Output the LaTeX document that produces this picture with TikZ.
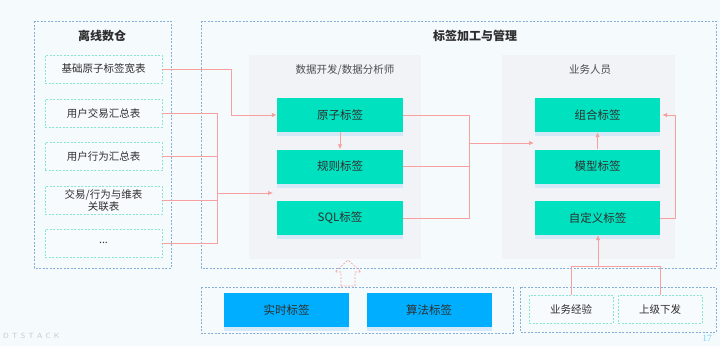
\documentclass[tikz,border=0pt]{standalone}
\usepackage{fontspec}
\setmainfont{Liberation Serif}
\newfontfamily\cjk{Noto Sans CJK SC}
\usetikzlibrary{arrows.meta,shadows,calc}
\definecolor{bgc}{HTML}{F5FAFD}
\definecolor{dashblue}{HTML}{86AED8}
\definecolor{dashteal}{HTML}{86E8D4}
\definecolor{panelg}{HTML}{F2F3F7}
\definecolor{tgreen}{HTML}{00E1BF}
\definecolor{tblue}{HTML}{00AEFF}
\definecolor{lred}{HTML}{F7A0A0}
\definecolor{txt}{HTML}{2E2E2E}
\definecolor{shad}{HTML}{CDE7F8}
\tikzset{
  outerbox/.style={draw=dashblue, line width=0.7pt, dash pattern=on 2pt off 1.5pt},
  srcbox/.style={draw=dashteal, line width=0.7pt, dash pattern=on 2pt off 1.5pt, fill=white, fill opacity=0.3, text opacity=1, minimum width=117pt, minimum height=28pt, inner sep=0pt, font=\cjk\fontsize{10.5}{12}\selectfont, text=txt, align=center},
  panel/.style={fill=panelg, draw=none},
  gbox/.style={fill=tgreen, draw=none, minimum width=126pt, minimum height=34pt, inner sep=0pt, font=\cjk\fontsize{11.5}{13}\selectfont, text=txt, drop shadow={shadow xshift=0pt, shadow yshift=-4pt, fill=shad, opacity=0.8}},
  bbox/.style={fill=tblue, draw=none, minimum width=125pt, minimum height=34pt, inner sep=0pt, font=\cjk\fontsize{11.5}{13}\selectfont, text=txt, drop shadow={shadow xshift=0pt, shadow yshift=-4pt, fill=shad, opacity=0.8}},
  ttl/.style={font=\cjk\bfseries\fontsize{12}{14}\selectfont, text=txt},
  plab/.style={font=\cjk\fontsize{10.5}{12}\selectfont, text=txt!85},
  conn/.style={draw=lred, line width=0.8pt},
  arr/.style={conn, -{Latex[length=5pt,width=4.5pt]}},
}
\begin{document}
\begin{tikzpicture}[x=1pt,y=-1pt]
\useasboundingbox (0,0) rectangle (720,346);
\fill[bgc] (0,0) rectangle (720,346);

% outer boxes
\draw[outerbox] (34,21) rectangle (171,268);
\draw[outerbox] (201,21) rectangle (716,268);
\draw[outerbox] (201,287) rectangle (513,333);
\draw[outerbox] (520,287) rectangle (716,332);

\node[ttl] (t1) at (102,36) {离线数仓};
\node[ttl] (t2) at (475,36) {标签加工与管理};

% panels
\fill[panel] (249,55) rectangle (421,259);
\fill[panel] (502,55) rectangle (675,259);
\node[plab] (p1) at (345,70) {数据开发/数据分析师};
\node[plab] (p2) at (590,70) {业务人员};

% source boxes
\node[srcbox] (b1) at (103.5,69) {基础原子标签宽表};
\node[srcbox] (b2) at (103.5,113) {用户交易汇总表};
\node[srcbox] (b3) at (103.5,156.5) {用户行为汇总表};
\node[srcbox] (b4) at (103.5,200) {交易/行为与维表\\关联表};
\node[srcbox] (b5) at (103.5,243) {...};

% green boxes
\node[gbox] (g1) at (340,115) {原子标签};
\node[gbox] (g2) at (340,166.5) {规则标签};
\node[gbox] (g3) at (340,218) {SQL标签};
\node[gbox,minimum width=125pt] (r1) at (597.5,115) {组合标签};
\node[gbox,minimum width=125pt] (r2) at (597.5,166.5) {模型标签};
\node[gbox,minimum width=125pt] (r3) at (597.5,218) {自定义标签};

% bottom boxes
\node[bbox] (s1) at (286.5,310) {实时标签};
\node[bbox] (s2) at (429,310) {算法标签};
\node[srcbox,minimum width=84pt] (e1) at (571,309) {业务经验};
\node[srcbox,minimum width=84pt] (e2) at (660,309) {上级下发};

% junction coordinates
\coordinate (jx1) at (231,0);
\coordinate (jx2) at (217,0);
\coordinate (sqlin) at (273,193);
\coordinate (jx3) at (469,0);
\coordinate (rin) at (534,143);
\coordinate (jx4) at (675,0);
\coordinate (jy5) at (0,266);
\coordinate (jm) at (598,266);

% left connectors
\draw[arr] (b1.east) -| (jx1 |- g1.west) -- (g1.west);
\draw[conn] (b2.east) -| (jx2 |- b5.east) -- (b5.east);
\draw[conn] (b3.east) -- (jx2 |- b3.east);
\draw[conn] (b4.east) -- (jx2 |- b4.east);
\draw[arr] (jx2 |- sqlin) -- (sqlin);

\draw[arr] (g1.south) -- (g2.north);

% middle to right
\draw[conn] (g1.east) -| (jx3 |- g3.east) -- (g3.east);
\draw[conn] (g2.east) -- (jx3 |- g2.east);
\draw[arr] (jx3 |- rin) -- (rin);

\draw[arr] (r2.north) -- (r1.south);
\draw[arr] (r3.east) -| (jx4 |- r1.east) -- ([xshift=2pt]r1.east);

% bottom right
\draw[conn] (e1.north) |- (jy5 -| e2.north) -- (e2.north);
\draw[arr] (jm) -- (jm |- r3.south);

% hollow dashed arrow
\draw[lred, line width=0.7pt, dash pattern=on 2pt off 1.5pt]
  (341,286) -- (341,272) -- (335,272) -- (348,260) -- (361,272) -- (355,272) -- (355,286) -- cycle;

% footer
\node[font=\sffamily\fontsize{7.5}{8}\selectfont, text=black!22, anchor=west, inner sep=0pt] (ft) at (3,336) {D\hspace{3.2pt}T\hspace{3.2pt}S\hspace{3.2pt}T\hspace{3.2pt}A\hspace{3.2pt}C\hspace{3.2pt}K};
\node[font=\fontsize{9.5}{10}\selectfont, text=cyan!55, inner sep=0pt] (pg) at (707,338) {17};
\end{tikzpicture}
\end{document}
